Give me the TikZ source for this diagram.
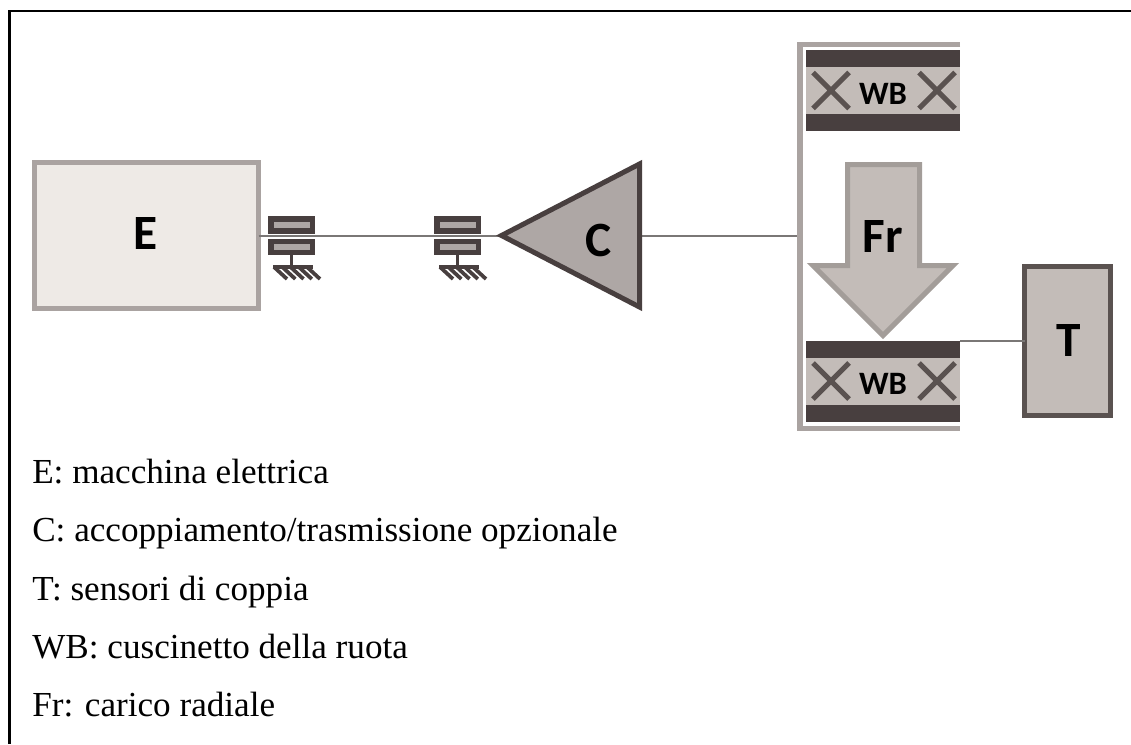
\documentclass[tikz,border=0pt]{standalone}
\usepackage{fontspec}
\setmainfont{Liberation Serif}
\newfontfamily\lblfont{Carlito}[BoldFont={Carlito Bold}]
\usetikzlibrary{calc}
\definecolor{frameC}{HTML}{AAA3A1}
\definecolor{darkC}{HTML}{483F3F}
\definecolor{crossC}{HTML}{5A5250}
\definecolor{lightC}{HTML}{C3BCB8}
\definecolor{midC}{HTML}{AEA7A5}
\definecolor{paleC}{HTML}{EEEAE6}
\definecolor{arrowC}{HTML}{A39D99}
\definecolor{shaftC}{HTML}{7A7776}
\tikzset{
  x=0.75pt,y=-0.75pt,
  box/.style={draw,line width=3.75pt,outer sep=0pt,inner sep=0pt,miter limit=10},
  solid block/.style={fill=darkC,draw=none,outer sep=0pt,inner sep=0pt},
  band/.style={fill=lightC,draw=none,outer sep=0pt,inner sep=0pt,minimum width=115.5pt,minimum height=35.25pt},
  bar/.style={solid block,minimum width=115.5pt,minimum height=12.75pt},
  inner bar/.style={fill=midC,draw=none,outer sep=0pt,inner sep=0pt,minimum width=27pt,minimum height=4.5pt},
  cage/.style={solid block,minimum width=35.25pt},
  shaft/.style={draw=shaftC,line width=1.5pt},
  cross/.style={draw=crossC,line width=3.75pt},
  ground/.style={draw=darkC,line width=2.8pt},
  big/.style={font=\lblfont\bfseries\fontsize{37}{37}\selectfont,inner sep=0pt},
  small/.style={font=\lblfont\bfseries\fontsize{24.5}{24.5}\selectfont,inner sep=0pt},
  legend/.style={anchor=base west,inner sep=0pt,font=\fontsize{26.35}{30}\selectfont}
}
\newcommand{\bearing}[2]{%
  \node[cage,minimum height=13.5pt] (#2t) at (#1,225) {};
  \node[cage,minimum height=12pt] (#2b) at (#1,247) {};
  \node[inner bar] at (#2t.center) {};
  \node[inner bar] at (#2b.center) {};
  \coordinate (#2g) at (#1,267);
  \draw[ground] (#2b.south) -- (#2g);
  \draw[ground] ($(#2g)+(-18.5,0)$) -- ($(#2g)+(21,0)$);
  \foreach \d in {-17.5,-9.2,-1,7.3,15.5}{\draw[ground] ($(#2g)+(\d,0)$) -- ($(#2g)+(\d+13,12)$);}
}
\newcommand{\wheelbearing}[2]{%
  \node[band] (#2) at (883,#1) {};
  \draw[cross] (813,#1-18) -- (849,#1+18) (849,#1-18) -- (813,#1+18);
  \draw[cross] (919,#1-18) -- (955,#1+18) (955,#1-18) -- (919,#1+18);
  \node[bar,anchor=south] (#2top) at (#2.north) {};
  \node[bar,anchor=north] (#2bot) at (#2.south) {};
  \node[small] (#2lab) at (883,#1+3) {WB};
}
\begin{document}
\begin{tikzpicture}
\useasboundingbox (0,0) rectangle (1131,744);
\fill[white] (0,0) rectangle (1131,744);
% page frame
\coordinate (fa) at (9.5,744);
\coordinate (fb) at (9.5,11);
\coordinate (fc) at (1131,11);
\draw[black,line width=1.6pt] (fa) -- (fb) -- (fc);
% bearing housing
\coordinate (ha) at (960,44.5);
\coordinate (hb) at (800,44.5);
\coordinate (hc) at (800,428.5);
\coordinate (hd) at (960,428.5);
% machine
\node[box,draw=frameC,fill=paleC,minimum width=168pt,minimum height=109.5pt] (E) at (146.5,235.5) {};
\node[big] (Elab) at (146,233.5) {E};
% coupling
\coordinate (Ca) at (501.5,235.5);
\coordinate (Cb) at (639.5,164);
\coordinate (Cc) at (639.5,307);
\coordinate (Cr) at (642,235.5);
% shafts
\draw[shaft] (E.east) -- (Ca);
\draw[shaft] (Cr) -- (hb |- Cr);
\bearing{291.5}{ba}
\bearing{457.5}{bb}
\draw[shaft] (E.east) -- (Ca);
\draw[draw=darkC,fill=midC,line width=3.75pt,miter limit=10] (Ca) -- (Cb) -- (Cc) -- cycle;
\node[big] (Clab) at (599,240) {C};
\draw[draw=frameC,line width=3.9pt] (ha) -- (hb) -- (hc) -- (hd);
% wheel bearings
\wheelbearing{90.5}{wbu}
\wheelbearing{381}{wbl}
% force
\draw[draw=arrowC,fill=lightC,line width=3.75pt,miter limit=10]
  (847.5,164.5) coordinate (fra) -- (919.5,164.5) -- (919.5,265.5) -- (953,265.5)
  -- (883,335.5) coordinate (frtip) -- (813,265.5) -- (847.5,265.5) -- cycle;
\node[big] (Frlab) at (883,236) {Fr};
% torque sensor
\node[box,draw=crossC,fill=lightC,minimum width=64.5pt,minimum height=111.75pt] (T) at (1067.5,341) {};
\node[big] (Tlab) at (1069,340) {T};
\draw[shaft] (wbltop.east |- T.west) -- (T.west);
% legend
\node[legend] (l1) at (32,483) {E: macchina elettrica};
\node[legend] (l2) at (32,541.5) {C: accoppiamento/trasmissione opzionale};
\node[legend] (l3) at (32,600) {T: sensori di coppia};
\node[legend] (l4) at (32,658) {WB: cuscinetto della ruota};
\node[legend] (l5) at (32,716) {Fr: carico radiale};
\end{tikzpicture}
\end{document}
